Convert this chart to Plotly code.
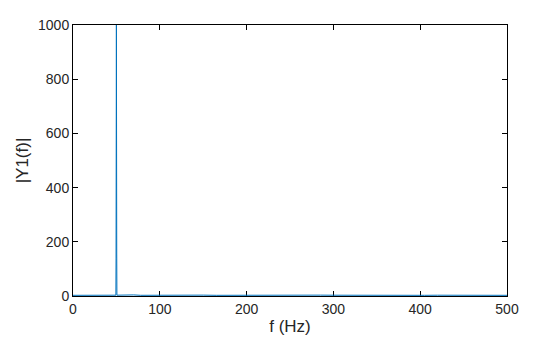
import plotly.graph_objects as go

freq_hz = [0, 8, 15, 22, 30, 37, 44, 48, 49.4, 49.6, 49.8, 50.0, 50.2, 50.4, 50.6, 52, 58, 66, 70, 78, 90,
           105, 120, 135, 150, 165, 180, 195, 210, 225, 240, 255, 270, 285, 300, 315,
           330, 345, 360, 375, 390, 405, 420, 435, 450, 465, 480, 495, 500]
magnitude = [2.5, 3, 2.4, 3.2, 2.6, 2.9, 2.5, 3.1, 3, 140, 710, 1000, 430, 140, 3, 3.2, 2.5, 2.9, 4, 2.6, 3,
             2.5, 3, 2.6, 3.2, 2.5, 2.9, 2.5, 3, 3.3, 2.5, 3, 2.6, 3.2, 2.9, 2.5,
             3, 2.5, 3.2, 2.6, 3, 2.5, 2.9, 2.5, 3.2, 2.6, 3, 2.5, 2.5]

x_ticks = [0, 100, 200, 300, 400, 500]
y_ticks = [0, 200, 400, 600, 800, 1000]

fig = go.Figure(go.Scatter(x=freq_hz, y=magnitude, mode="lines",
                           line=dict(color="#0072BD", width=1)))

axis_common = dict(showline=True, linecolor="black", linewidth=1, mirror="ticks",
                   ticks="inside", ticklen=5, tickcolor="black", showgrid=False,
                   zeroline=False, automargin=False, layer="below traces",
                   tickfont=dict(family="Liberation Sans, Arial", size=14, color="#262626"))

fig.update_layout(
    width=560, height=337,
    margin=dict(l=73, r=53, t=25, b=41),
    paper_bgcolor="white", plot_bgcolor="white",
    showlegend=False,
    font=dict(family="Liberation Sans, Arial", size=14, color="#262626"),
    xaxis=dict(range=[0, 500], tickvals=x_ticks, title=dict(text="f (Hz)", standoff=4), **axis_common),
    yaxis=dict(range=[0, 1000], tickvals=y_ticks, title=dict(text="|Y1(f)|", standoff=5), **axis_common),
)

fig.write_html("out.html")
